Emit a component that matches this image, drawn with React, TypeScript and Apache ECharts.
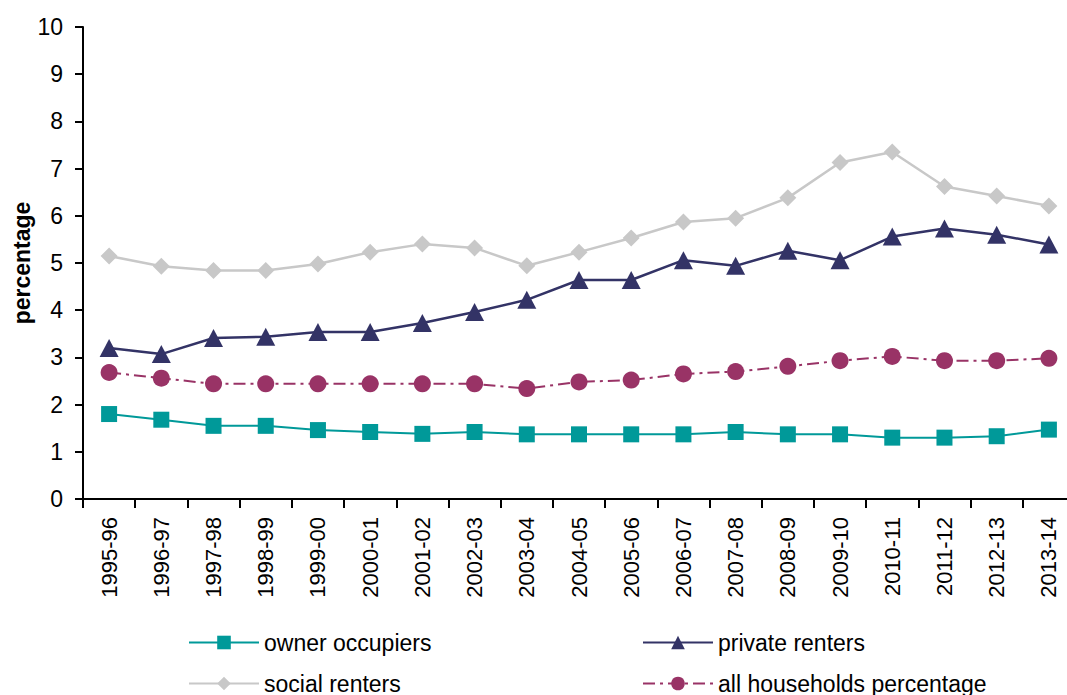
import React, { useEffect, useRef } from "react";
import * as echarts from "echarts";

const categories = [
  "1995-96", "1996-97", "1997-98", "1998-99", "1999-00", "2000-01", "2001-02",
  "2002-03", "2003-04", "2004-05", "2005-06", "2006-07", "2007-08", "2008-09",
  "2009-10", "2010-11", "2011-12", "2012-13", "2013-14",
];

const ownerOccupiers = [1.8, 1.68, 1.55, 1.55, 1.46, 1.42, 1.38, 1.42, 1.37, 1.37, 1.37, 1.37, 1.42, 1.37, 1.37, 1.3, 1.3, 1.33, 1.47];
const privateRenters = [3.2, 3.07, 3.41, 3.44, 3.54, 3.54, 3.73, 3.96, 4.22, 4.64, 4.64, 5.06, 4.94, 5.26, 5.06, 5.56, 5.73, 5.6, 5.39];
const socialRenters = [5.15, 4.93, 4.84, 4.84, 4.98, 5.23, 5.4, 5.32, 4.94, 5.23, 5.53, 5.87, 5.95, 6.38, 7.13, 7.35, 6.62, 6.42, 6.21];
const allHouseholds = [2.68, 2.56, 2.44, 2.44, 2.44, 2.44, 2.44, 2.44, 2.34, 2.48, 2.52, 2.65, 2.7, 2.81, 2.93, 3.02, 2.93, 2.93, 2.98];

const yTicks = { min: 0, max: 10, interval: 1 };

const FONT = "'Liberation Sans', Arial, sans-serif";

function legendItem(name: string, left: number, top: number) {
  return {
    data: [name],
    orient: "horizontal",
    left,
    top,
    padding: 0,
    itemWidth: 70,
    itemHeight: 17,
    textStyle: { fontSize: 23, color: "#000", fontFamily: FONT },
  };
}

export default function App() {
  const ref = useRef<HTMLDivElement>(null);

  useEffect(() => {
    if (!ref.current) return;
    const chart = echarts.init(ref.current, null, { renderer: "svg" });
    chart.setOption({
      animation: false,
      backgroundColor: "#ffffff",
      textStyle: { fontFamily: FONT },
      grid: { left: 83, top: 27, width: 992, height: 472, containLabel: false, outerBoundsMode: "none" },
      xAxis: {
        type: "category",
        data: categories,
        boundaryGap: true,
        axisLine: { lineStyle: { color: "#000", width: 2 } },
        axisTick: { show: true, length: 9, lineStyle: { color: "#000", width: 2 } },
        axisLabel: { rotate: 90, margin: 18, fontSize: 22, color: "#000", fontFamily: FONT, interval: 0 },
        splitLine: { show: false },
      },
      yAxis: {
        type: "value",
        min: yTicks.min,
        max: yTicks.max,
        interval: yTicks.interval,
        name: "percentage",
        nameLocation: "middle",
        nameGap: 50,
        nameMoveOverlap: false,
        nameTextStyle: { fontSize: 23, fontWeight: "bold", color: "#000", fontFamily: FONT },
        axisLine: { show: true, lineStyle: { color: "#000", width: 2 } },
        axisTick: { show: true, length: 8, lineStyle: { color: "#000", width: 2 } },
        axisLabel: { margin: 20, fontSize: 23, color: "#000", fontFamily: FONT },
        splitLine: { show: false },
      },
      legend: [
        legendItem("owner occupiers", 188, 631),
        legendItem("social renters", 188, 672),
        legendItem("private renters", 642, 631),
        legendItem("all households percentage", 642, 672),
      ],
      series: [
        {
          name: "owner occupiers",
          type: "line",
          data: ownerOccupiers,
          symbol: "rect",
          symbolSize: 16,
          color: "#009999",
          lineStyle: { color: "#009999", width: 2 },
          itemStyle: { color: "#009999" },
        },
        {
          name: "private renters",
          type: "line",
          data: privateRenters,
          symbol: "triangle",
          symbolSize: [19, 18],
          color: "#333366",
          lineStyle: { color: "#333366", width: 2.5 },
          itemStyle: { color: "#333366" },
        },
        {
          name: "social renters",
          type: "line",
          data: socialRenters,
          symbol: "diamond",
          symbolSize: 17,
          color: "#C8C8C8",
          lineStyle: { color: "#C8C8C8", width: 2.5 },
          itemStyle: { color: "#C8C8C8" },
        },
        {
          name: "all households percentage",
          type: "line",
          data: allHouseholds,
          symbol: "circle",
          symbolSize: 17,
          color: "#993366",
          lineStyle: { color: "#993366", width: 2, type: [12, 5, 3, 5] },
          itemStyle: { color: "#993366" },
        },
      ],
    });
    return () => chart.dispose();
  }, []);

  return (
    <div
      ref={ref}
      style={{ position: "absolute", left: 0, top: 0, width: 1067, height: 695 }}
    />
  );
}
